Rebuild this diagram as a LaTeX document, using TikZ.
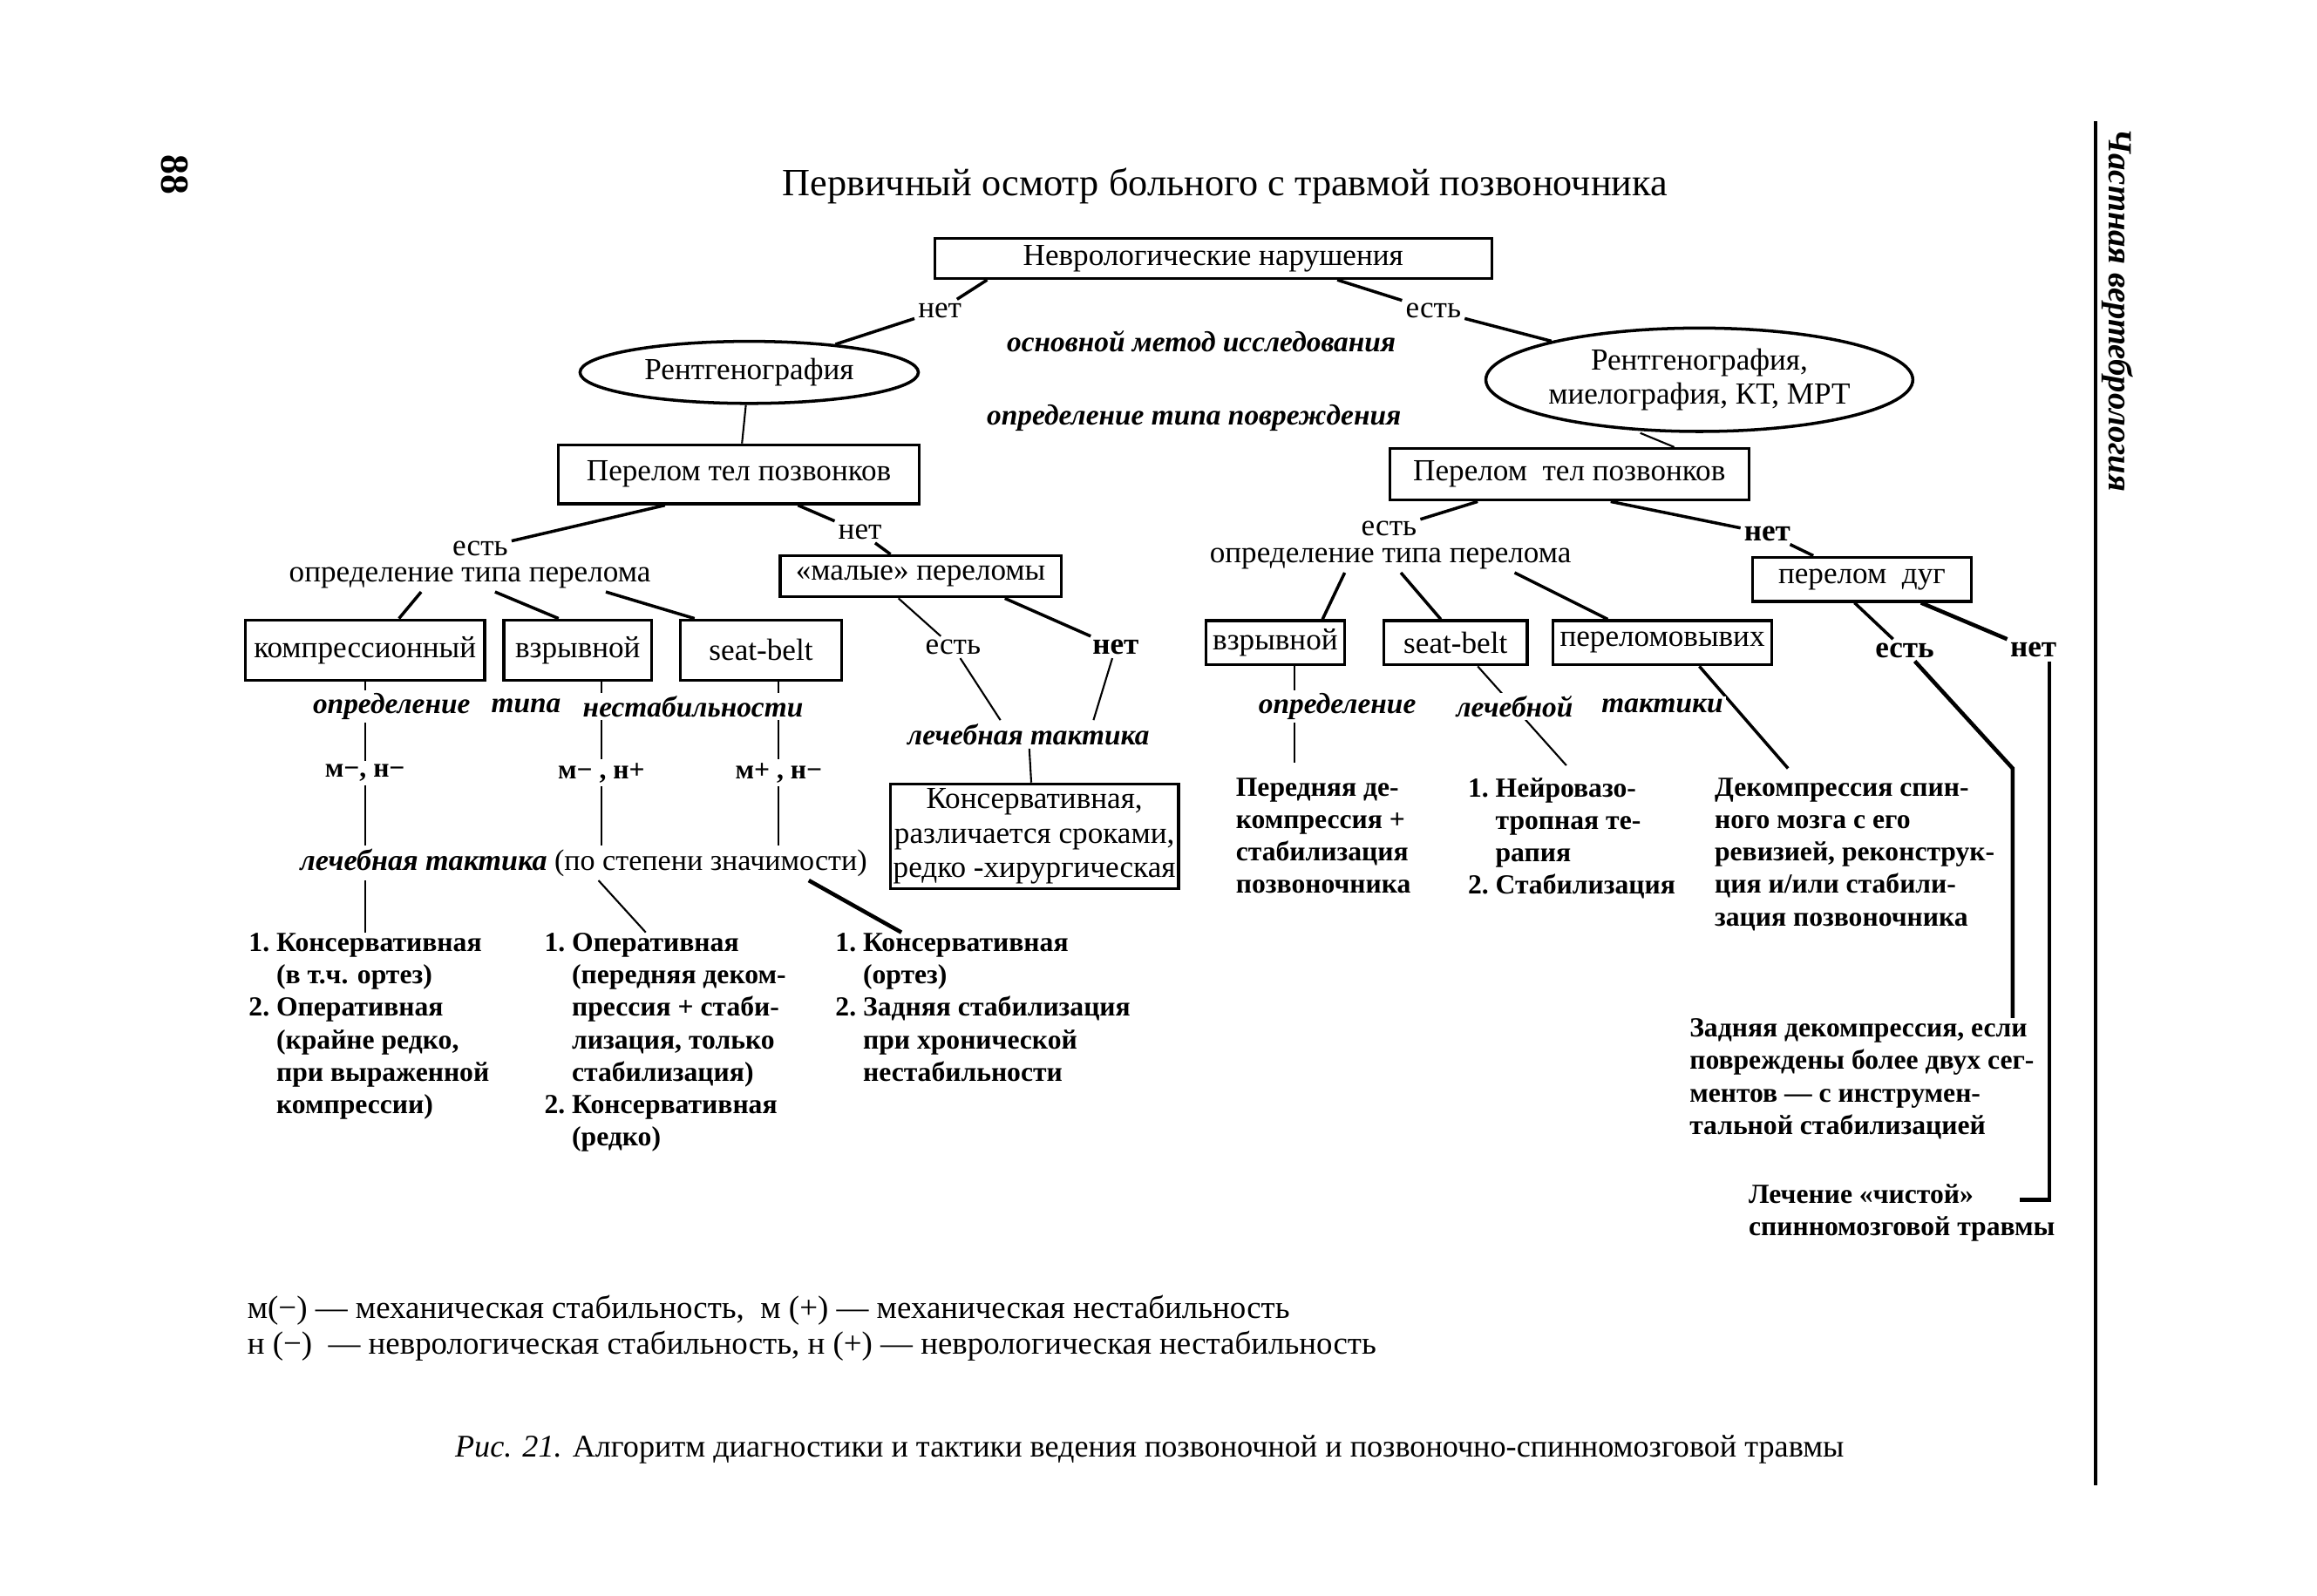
\documentclass[tikz,border=0pt]{standalone}
\usepackage{fontspec}
\setmainfont{Liberation Serif}
\usepackage{tikz}
\usetikzlibrary{shapes.geometric, positioning, calc}
\newcommand{\ux}{0.016952cm}
\newcommand{\fsbox}{\fontsize{10}{11.2}\selectfont}
\newcommand{\fstxt}{\fontsize{9}{10.6}\selectfont}
\newcommand{\fsnote}{\fontsize{9.5}{11}\selectfont}
\tikzset{
  box/.style={rectangle, draw, line width=0.9pt, inner sep=1pt,
    font=\fsbox, align=center},
  oval/.style={ellipse, draw, line width=1pt, inner sep=0pt,
    font=\fsbox, align=center},
  lbl/.style={inner sep=1pt, font=\fsbox},
  boldlbl/.style={inner sep=1pt, font=\fsbox\bfseries},
  mnlbl/.style={inner sep=1pt, font=\fstxt\bfseries},
  note/.style={inner sep=1pt, font=\fsnote\bfseries\itshape},
  gapnote/.style={note, fill=white},
  txt/.style={anchor=north west, inner sep=0pt, align=left,
    font=\fstxt\bfseries},
  link/.style={line width=1pt},
  thinlink/.style={line width=0.6pt},
  heavylink/.style={line width=1.3pt}
}

\begin{document}
\begin{tikzpicture}[x=0.016952cm, y=-0.016952cm]
  \useasboundingbox (0,0) rectangle (1568,1080);

  \node[font=\fontsize{12.6}{15}\selectfont] (title) at (829,126) {Первичный осмотр больного с травмой позвоночника};
  \node[rotate=-90, font=\fontsize{13}{15}\selectfont\bfseries] (pagenum) at (118,118) {88};
  \node[rotate=-90, font=\fontsize{11}{13}\selectfont\bfseries\itshape] (chapter) at (1433,210) {Частная вертебрология};
  \draw[link] (1418,82) -- (1418,1005);

  \node[box, minimum width=377*\ux, minimum height=27*\ux] (nevr) at (821,175) {Неврологические нарушения};
  \node[lbl] (net1) at (636,210) {нет};
  \node[lbl] (est1) at (970,210) {есть};
  \node[note] (osnmet) at (813,231) {основной метод исследования};
  \node[oval, minimum width=229*\ux, minimum height=42*\ux] (rtg1) at (507,252) {Рентгенография};
  \node[oval, minimum width=283*\ux, minimum height=70*\ux] (rtg2) at (1150,257) {Рентгенография,\\миелография, КТ, МРТ};
  \node[note] (opredpovr) at (808,283) {определение типа повреждения};
  \node[box, minimum width=244*\ux, minimum height=40*\ux] (perL) at (500,321) {Перелом тел позвонков};
  \node[box, minimum width=243*\ux, minimum height=35*\ux] (perR) at (1062,321) {Перелом~~тел позвонков};

  \node[lbl] (estL) at (325,371) {есть};
  \node[lbl] (opredL) at (318,391) {определение типа перелома};
  \node[lbl] (netL) at (582,360) {нет};
  \node[box, minimum width=190*\ux, minimum height=28*\ux] (malye) at (623,390) {«малые» переломы};
  \node[box, minimum width=162*\ux, minimum height=41*\ux] (kompL) at (247,440) {компрессионный};
  \node[box, minimum width=100*\ux, minimum height=41*\ux] (vzrL) at (391,440) {взрывной};
  \node[box, minimum width=109*\ux, minimum height=41*\ux] (seatL) at (515,440) {seat-belt};
  \node[lbl] (estM) at (645,438) {есть};
  \node[boldlbl] (netM) at (755,438) {нет};
  \node[note] (lechM) at (696,497) {лечебная тактика};
  \node[box, minimum width=193*\ux, minimum height=71*\ux] (kons) at (700,566) {Консервативная,\\различается сроками,\\редко -хирургическая};
  \node[mnlbl] (mn1) at (247,523) {м−, н−};
  \node[mnlbl] (mn2) at (407,523) {м− , н+};
  \node[mnlbl] (mn3) at (527,523) {м+ , н−};
  \node[lbl, font=\fontsize{9.7}{11}\selectfont] (lechL) at (395,584) {\textbf{\textit{лечебная тактика}} (по степени значимости)};
  \node[txt] (list1) at (168,631) {1.~Консервативная\\\hphantom{1.~}(в~т.ч. ортез)\\2.~Оперативная\\\hphantom{2.~}(крайне редко,\\\hphantom{2.~}при выраженной\\\hphantom{2.~}компрессии)};
  \node[txt] (list2) at (368,631) {1.~Оперативная\\\hphantom{1.~}(передняя деком-\\\hphantom{1.~}прессия + стаби-\\\hphantom{1.~}лизация, только\\\hphantom{1.~}стабилизация)\\2.~Консервативная\\\hphantom{2.~}(редко)};
  \node[txt] (list3) at (565,631) {1.~Консервативная\\\hphantom{1.~}(ортез)\\2.~Задняя стабилизация\\\hphantom{2.~}при хронической\\\hphantom{2.~}нестабильности};

  \node[lbl] (estR) at (940,358) {есть};
  \node[lbl] (opredR) at (941,378) {определение типа перелома};
  \node[boldlbl] (netR) at (1196,361) {нет};
  \node[box, minimum width=148*\ux, minimum height=30*\ux] (duga) at (1260,392) {перелом~~дуг};
  \node[box, minimum width=94*\ux, minimum height=30*\ux] (vzrR) at (863,435) {взрывной};
  \node[box, minimum width=97*\ux, minimum height=30*\ux] (seatR) at (985,435) {seat-belt};
  \node[box, minimum width=148*\ux, minimum height=30*\ux] (pvyv) at (1125,435) {переломовывих};
  \node[boldlbl] (estD) at (1289,440) {есть};
  \node[boldlbl] (netD) at (1376,440) {нет};
  \node[txt] (peredn) at (836,526) {Передняя де-\\компрессия +\\стабилизация\\позвоночника};
  \node[txt] (neuro) at (993,526) {1.~Нейровазо-\\\hphantom{1.~}тропная те-\\\hphantom{1.~}рапия\\2.~Стабилизация};
  \node[txt] (dekomp) at (1160,526) {Декомпрессия спин-\\ного мозга с его\\ревизией, реконструк-\\ция и/или стабили-\\зация позвоночника};
  \node[txt] (zadn) at (1143,689) {Задняя декомпрессия, если\\повреждены более двух сег-\\ментов — с инструмен-\\тальной стабилизацией};
  \node[txt] (chist) at (1183,801) {Лечение «чистой»\\спинномозговой травмы};

  \node[anchor=west, inner sep=0pt, font=\fontsize{10.5}{12}\selectfont] (leg1) at (167,887) {м(−) — механическая стабильность,~~м (+) — механическая нестабильность};
  \node[anchor=west, inner sep=0pt, font=\fontsize{10.5}{12}\selectfont] (leg2) at (167,911) {н (−)~~— неврологическая стабильность, н (+) — неврологическая нестабильность};
  \node[font=\fontsize{10.3}{12}\selectfont] (caption) at (778,981) {\textit{Рис. 21.} Алгоритм диагностики и тактики ведения позвоночной и позвоночно-спинномозговой травмы};

  \draw[link] ([shift={(-153,0)}]nevr.south) -- (net1) -- (rtg1);
  \draw[link] ([shift={(84,0)}]nevr.south) -- (est1) -- (rtg2);
  \draw[thinlink] (rtg1) -- (perL);
  \draw[thinlink] ([shift={(-40,0)}]rtg2.south) -- ([shift={(71,0)}]perR.north);

  \draw[link] ([shift={(-50,0)}]perL.south) -- (estL);
  \draw[link] ([shift={(40,0)}]perL.south) -- (netL) -- (malye);
  \draw[link] ([shift={(-33,0)}]opredL.south) -- ([shift={(23,0)}]kompL.north);
  \draw[link] ([shift={(17,0)}]opredL.south) -- ([shift={(-13,0)}]vzrL.north);
  \draw[link] ([shift={(92,0)}]opredL.south) -- ([shift={(-45,0)}]seatL.north);
  \draw[thinlink] ([shift={(-15,0)}]malye.south) -- (estM);
  \draw[link] ([shift={(57,0)}]malye.south) -- (netM);
  \draw[thinlink] (estM) -- ([shift={(-19,0)}]lechM.north);
  \draw[thinlink] (netM) -- ([shift={(44,0)}]lechM.north);
  \draw[thinlink] (lechM) -- (kons);
  \draw[thinlink] (kompL.south) -- (mn1);
  \draw[thinlink] (mn1) -- (lechL.north -| mn1);
  \draw[thinlink] (lechL.south -| mn1) -- (list1.north -| mn1);
  \draw[thinlink] ([shift={(16,0)}]vzrL.south) -- (mn2);
  \draw[thinlink] (mn2) -- (lechL.north -| mn2);
  \draw[thinlink] ([shift={(12,0)}]seatL.south) -- (mn3);
  \draw[thinlink] (mn3) -- (lechL.north -| mn3);
  \draw[thinlink] ([shift={(10,0)}]lechL.south) -- ([shift={(69,0)}]list2.north west);
  \draw[heavylink] ([shift={(-42,0)}]lechL.south east) -- ([shift={(45,0)}]list3.north west);

  \draw[link] ([shift={(-62,0)}]perR.south) -- (estR);
  \draw[link] ([shift={(28,0)}]perR.south) -- (netR) -- (duga);
  \draw[link] ([shift={(-31,0)}]opredR.south) -- ([shift={(32,0)}]vzrR.north);
  \draw[link] ([shift={(7,0)}]opredR.south) -- ([shift={(-10,0)}]seatR.north);
  \draw[link] ([shift={(84,0)}]opredR.south) -- ([shift={(-37,0)}]pvyv.north);
  \draw[thinlink] ([shift={(13,0)}]vzrR.south) -- ([shift={(40,-10)}]peredn.north west);
  \draw[thinlink] ([shift={(15,0)}]seatR.south) -- ([shift={(67,-8)}]neuro.north west);
  \draw[link] ([shift={(25,0)}]pvyv.south) -- ([shift={(50,-6)}]dekomp.north west);
  \draw[link] ([shift={(-5,0)}]duga.south) -- (estD);
  \draw[heavylink] ([shift={(40,0)}]duga.south) -- (netD);
  \coordinate (bendE) at (1362,520);
  \draw[heavylink] (estD) -- (bendE) -- (bendE |- zadn.north);
  \coordinate (endN) at (1367,812);
  \draw[heavylink] ([shift={(11,0)}]netD.south) |- (endN);

  \node[gapnote] (opr1) at (265,478) {определение};
  \node[gapnote] (tipa1) at (356,478) {типа};
  \node[gapnote] (nestab) at (469,478) {нестабильности};
  \node[gapnote] (opr2) at (905,478) {определение};
  \node[gapnote] (lech2) at (1025,478) {лечебной};
  \node[gapnote] (takt2) at (1125,478) {тактики};
\end{tikzpicture}
\end{document}
